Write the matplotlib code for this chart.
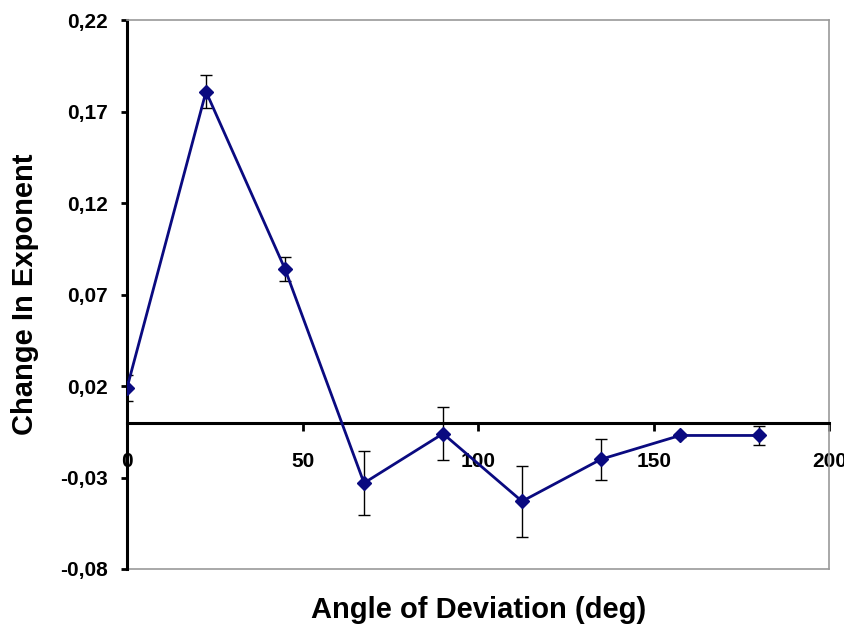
"""
Change in exponent vs angle of deviation, with error bars.
"""

import matplotlib
matplotlib.use("Agg")
import matplotlib.pyplot as plt
import matplotlib.ticker

# Data

ANGLE = [0, 22.5, 45, 67.5, 90, 112.5, 135, 157.5, 180]
CHANGE = [0.019, 0.181, 0.084, -0.033, -0.006, -0.043, -0.020, -0.007, -0.007]
ERROR = [0.007, 0.009, 0.0068, 0.0175, 0.0144, 0.0193, 0.0111, 0.001, 0.005]

Y_TICKS = [-0.08, -0.03, 0.02, 0.07, 0.12, 0.17, 0.22]
X_TICKS = [0, 50, 100, 150, 200]

NAVY = "#0a0a80"
FRAME_GREY = "#9a9a9a"

plt.rcParams["font.family"] = ["Liberation Sans", "DejaVu Sans"]

fig = plt.figure(figsize=(8.45, 6.31), dpi=100)
ax = fig.add_axes([0.1503, 0.0983, 0.8311, 0.8695])

ax.errorbar(ANGLE, CHANGE, yerr=ERROR, fmt="none", ecolor="black",
            elinewidth=1.0, capsize=4, capthick=1.0, zorder=3)
ax.plot(ANGLE, CHANGE, color=NAVY, linewidth=2.0, marker="D",
        markersize=7.5, markerfacecolor=NAVY, markeredgecolor=NAVY, zorder=4)

ax.set_xlim(0, 200)
ax.set_ylim(-0.08, 0.22)
ax.set_xticks(X_TICKS)
ax.set_yticks(Y_TICKS)
ax.yaxis.set_major_formatter(matplotlib.ticker.FuncFormatter(
    lambda v, pos: f"{v:.2f}".replace(".", ",")))

# Axis line crosses at y = 0
ax.spines["bottom"].set_position(("data", 0))
ax.spines["bottom"].set_linewidth(2.2)
ax.spines["left"].set_linewidth(2.2)
for side in ("top", "right"):
    ax.spines[side].set_color(FRAME_GREY)
    ax.spines[side].set_linewidth(1.2)
ax.axhline(-0.08, color=FRAME_GREY, linewidth=1.2, clip_on=False, zorder=1)

ax.tick_params(axis="x", direction="out", length=6, width=2, pad=15, labelsize=15)
ax.tick_params(axis="y", direction="out", length=4, width=2, pad=10, labelsize=15)
for lbl in ax.get_xticklabels() + ax.get_yticklabels():
    lbl.set_fontweight("bold")

ax.set_xlabel("Angle of Deviation (deg)", fontsize=21, fontweight="bold", labelpad=0)
ax.xaxis.set_label_coords(0.5, -0.05)
ax.set_ylabel("Change In Exponent", fontsize=21, fontweight="bold")
ax.yaxis.set_label_coords(-0.125, 0.5)

fig.savefig("out.png", dpi=100)
